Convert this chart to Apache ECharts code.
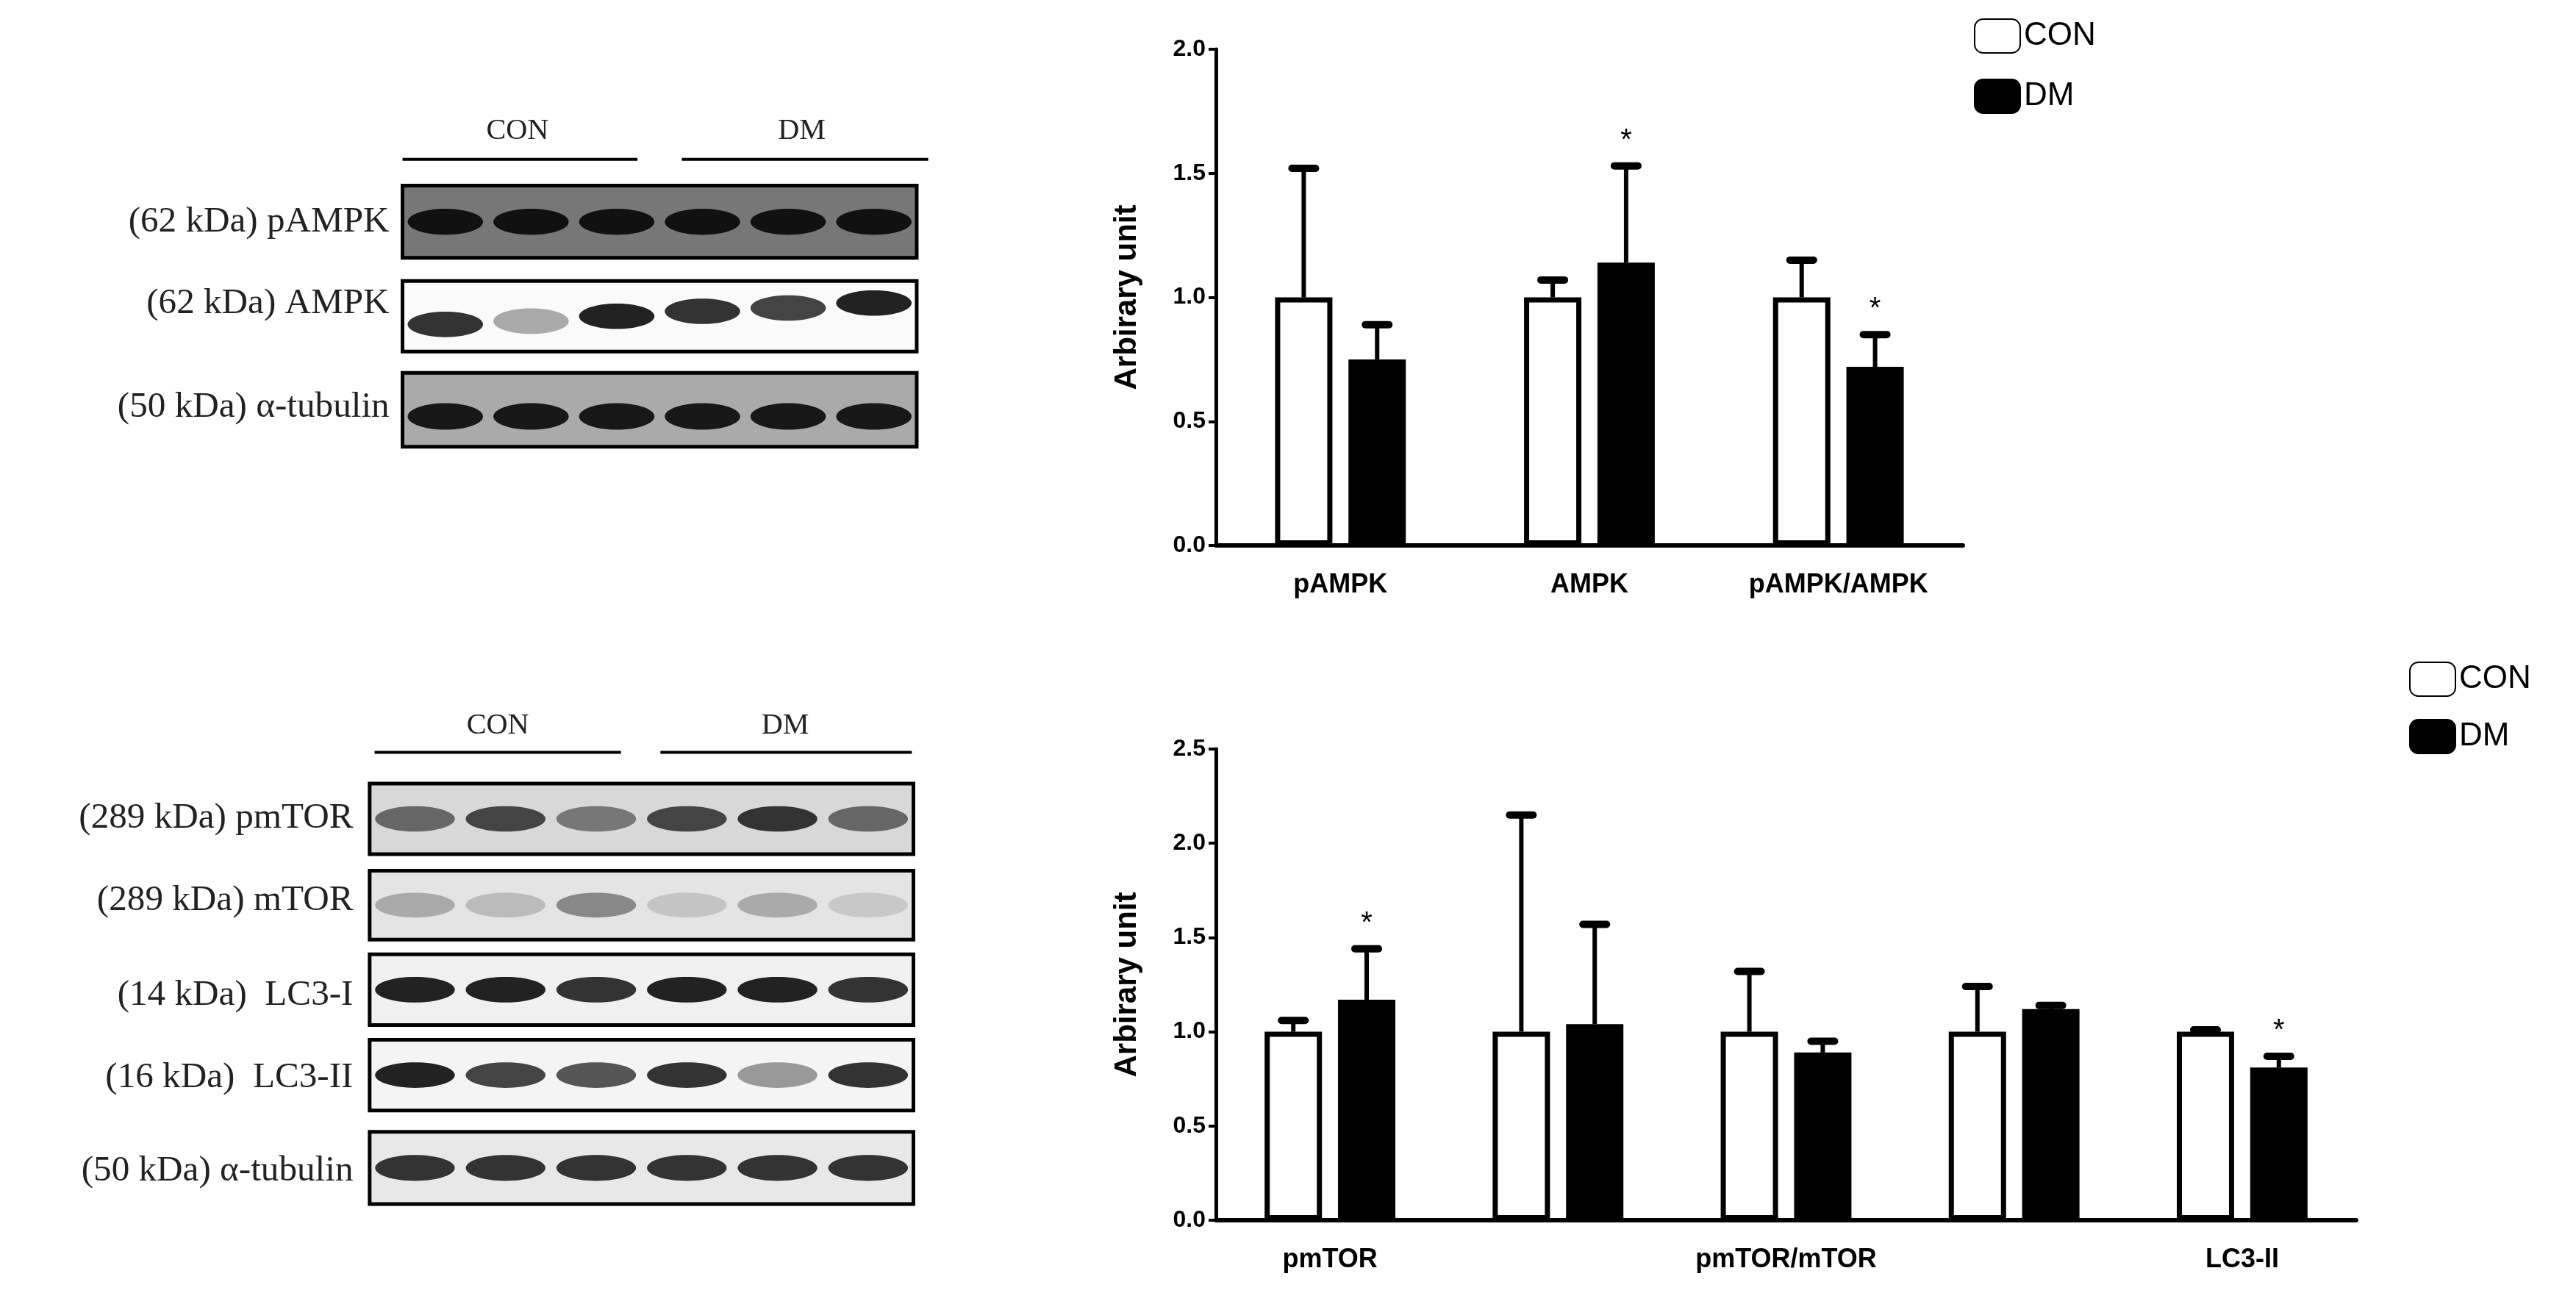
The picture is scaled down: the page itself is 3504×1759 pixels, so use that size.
<!DOCTYPE html>
<html>
<head>
<meta charset="utf-8">
<script src="https://cdn.jsdelivr.net/npm/echarts@6/dist/echarts.min.js"></script>
<style>html,body{margin:0;background:#fff}#main{width:3504px;height:1759px}</style>
</head>
<body>
<div id="main"></div>
<script>
// top panel
var topCats = ['pAMPK', 'AMPK', 'pAMPK/AMPK']
var topCon = [1.0, 1.0, 1.0]
var topConErr = [1.52, 1.07, 1.15]
var topDm = [0.75, 1.14, 0.72]
var topDmErr = [0.89, 1.53, 0.85]
var topDmStar = [false, true, true]
var topTicks = [0, 0.5, 1.0, 1.5, 2.0]

// bottom panel
var botCats = ['pmTOR', 'mTOR', 'pmTOR/mTOR', 'LC3-I', 'LC3-II']
var botCon = [1.0, 1.0, 1.0, 1.0, 1.0]
var botConErr = [1.06, 2.15, 1.32, 1.24, 1.01]
var botDm = [1.17, 1.04, 0.89, 1.12, 0.81]
var botDmErr = [1.44, 1.57, 0.95, 1.14, 0.87]
var botDmStar = [true, false, false, false, true]
var botTicks = [0, 0.5, 1.0, 1.5, 2.0, 2.5]

var S = 3504 / 1568
var BW = 78, GAP = 0.28
var OFF = (BW + BW * GAP) / 2

function errSeries(xi, yi, vals, tops, stars, side) {
  var data = vals.map(function (v, i) { return [i, v, tops[i], stars[i] ? 1 : 0] })
  return {
    type: 'custom', xAxisIndex: xi, yAxisIndex: yi, data: data, z: 1, silent: true,
    renderItem: function (params, api) {
      var b = api.coord([api.value(0), api.value(1)])
      var t = api.coord([api.value(0), api.value(2)])
      var x = b[0] + side * OFF
      var ch = [
        { type: 'line', shape: { x1: x, y1: b[1], x2: x, y2: t[1] }, style: { stroke: '#000', lineWidth: 6 } },
        { type: 'line', shape: { x1: x - 16, y1: t[1], x2: x + 16, y2: t[1] }, style: { stroke: '#000', lineWidth: 10, lineCap: 'round' } }
      ]
      if (api.value(3)) ch.push({ type: 'text', style: { x: x, y: t[1] - 34, text: '*', fill: '#000', font: '40px Liberation Sans', align: 'center', verticalAlign: 'middle' } })
      return { type: 'group', children: ch }
    }
  }
}

var grids = [
  { left: 1654, top: 67, width: 1016, height: 675 },
  { left: 1654, top: 1019, width: 1551, height: 641 }
]
function yAx(gi, max) {
  return {
    type: 'value', gridIndex: gi, min: 0, max: max, interval: 0.5,
    name: 'Arbirary unit', nameLocation: 'middle', nameGap: 100,
    nameTextStyle: { fontFamily: 'Liberation Sans', fontWeight: 'bold', fontSize: 42, color: '#000' },
    axisLine: { show: true, lineStyle: { color: '#000', width: 5 } },
    axisTick: { show: true, length: 10, lineStyle: { color: '#000', width: 4 } },
    axisLabel: { fontFamily: 'Liberation Sans', fontWeight: 'bold', fontSize: 32, color: '#000', margin: 14,
      formatter: function (v) { return v.toFixed(1) } },
    splitLine: { show: false }
  }
}
function xAx(gi, cats) {
  return {
    type: 'category', gridIndex: gi, data: cats,
    axisLine: { lineStyle: { color: '#000', width: 6 } },
    axisTick: { alignWithLabel: true, length: 22, lineStyle: { color: '#000', width: 4 } },
    axisLabel: { fontFamily: 'Liberation Sans', fontWeight: 'bold', fontSize: 36, color: '#000', margin: 36 }
  }
}
function bars(xi, name, vals, dark) {
  return {
    type: 'bar', name: name, xAxisIndex: xi, yAxisIndex: xi, data: vals, barWidth: BW, barGap: (GAP * 100) + '%', z: 2,
    itemStyle: { color: dark ? '#000' : '#fff', borderColor: '#000', borderWidth: 7 }
  }
}

// western blot panels, drawn as graphics
var g = []
function txt(x, y, s, align, size) {
  g.push({ type: 'text', x: x * S, y: y * S, style: { text: s, font: (size || 22 * S) + 'px "Liberation Serif"', fill: '#222', align: align || 'right', verticalAlign: 'middle' } })
}
function hline(x1, x2, y) {
  g.push({ type: 'line', shape: { x1: x1 * S, y1: y * S, x2: x2 * S, y2: y * S }, style: { stroke: '#000', lineWidth: 4 } })
}
function blot(x1, x2, y1, y2, bg, shades, dy) {
  var w = (x2 - x1) * S, h = (y2 - y1) * S
  var kids = [{ type: 'rect', shape: { x: 0, y: 0, width: w, height: h }, style: { fill: bg, stroke: '#000', lineWidth: 5 } }]
  var lw = w / 6
  shades.forEach(function (c, i) {
    kids.push({ type: 'ellipse', shape: { cx: lw * (i + 0.5), cy: h * 0.5 + (dy ? dy[i] * S : 0), rx: lw * 0.44, ry: h * 0.18 }, style: { fill: c } })
  })
  g.push({ type: 'group', x: x1 * S, y: y1 * S, children: kids })
}
// top blot
txt(315, 80, 'CON', 'center', 18 * S); txt(488, 80, 'DM', 'center', 18 * S)
hline(245, 388, 97); hline(415, 565, 97)
blot(245, 558, 113, 157, '#777', ['#111', '#111', '#111', '#111', '#111', '#111'])
blot(245, 558, 171, 214, '#fafafa', ['#333', '#aaa', '#222', '#333', '#444', '#222'], [5, 3, 0, -3, -5, -8])
blot(245, 558, 227, 272, '#aaa', ['#181818', '#181818', '#181818', '#181818', '#181818', '#181818'], [4, 4, 4, 4, 4, 4])
txt(237, 135, '(62 kDa) pAMPK'); txt(237, 185, '(62 kDa) AMPK'); txt(237, 248, '(50 kDa) \u03b1-tubulin')
// bottom blot
txt(303, 442, 'CON', 'center', 18 * S); txt(478, 442, 'DM', 'center', 18 * S)
hline(228, 378, 458); hline(402, 555, 458)
blot(225, 556, 477, 520, '#d8d8d8', ['#666', '#444', '#777', '#444', '#333', '#666'])
blot(225, 556, 530, 572, '#e4e4e4', ['#aaa', '#bbb', '#888', '#c4c4c4', '#aaa', '#c8c8c8'])
blot(225, 556, 581, 624, '#f0f0f0', ['#222', '#222', '#333', '#222', '#222', '#333'])
blot(225, 556, 633, 676, '#f4f4f4', ['#222', '#444', '#555', '#333', '#999', '#333'])
blot(225, 556, 689, 733, '#e8e8e8', ['#333', '#333', '#333', '#333', '#333', '#333'])
txt(215, 498, '(289 kDa) pmTOR'); txt(215, 548, '(289 kDa) mTOR'); txt(215, 606, '(14 kDa)  LC3-I')
txt(215, 656, '(16 kDa)  LC3-II'); txt(215, 713, '(50 kDa) \u03b1-tubulin')

var chart = echarts.init(document.getElementById('main'))
var legendText = { fontFamily: 'Liberation Sans', fontSize: 44, color: '#000' }
chart.setOption({
  animation: false,
  grid: grids,
  legend: [
    { data: [{ name: 'CON' }, { name: 'DM' }], orient: 'vertical', left: 2680, top: 20, itemWidth: 62, itemHeight: 46, itemGap: 34, textStyle: legendText },
    { data: [{ name: 'CON ' }, { name: 'DM ' }], orient: 'vertical', left: 3272, top: 895, itemWidth: 62, itemHeight: 46, itemGap: 30, textStyle: legendText }
  ],
  xAxis: [xAx(0, topCats), xAx(1, botCats)],
  yAxis: [yAx(0, 2.0), yAx(1, 2.5)],
  graphic: g,
  series: [
    bars(0, 'CON', topCon, false), bars(0, 'DM', topDm, true),
    errSeries(0, 0, topCon, topConErr, [false, false, false], -1),
    errSeries(0, 0, topDm, topDmErr, topDmStar, 1),
    bars(1, 'CON ', botCon, false), bars(1, 'DM ', botDm, true),
    errSeries(1, 1, botCon, botConErr, [false, false, false, false, false], -1),
    errSeries(1, 1, botDm, botDmErr, botDmStar, 1)
  ]
})
</script>
</body>
</html>
